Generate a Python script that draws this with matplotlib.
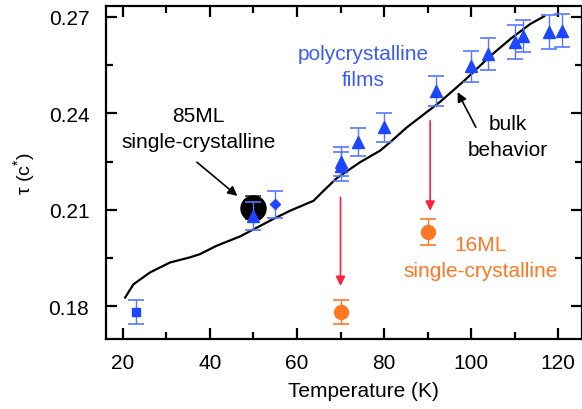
import matplotlib
matplotlib.use("Agg")
import matplotlib.pyplot as plt
from matplotlib.ticker import MultipleLocator

plt.rcParams['font.family'] = ['Liberation Sans', 'DejaVu Sans']
plt.rcParams['mathtext.fontset'] = 'custom'
plt.rcParams['mathtext.rm'] = 'Liberation Sans'
plt.rcParams['mathtext.it'] = 'Liberation Sans:italic'

# bulk behaviour (solid curve)
bulk_T = [20.5, 22.4, 26.2, 30.8, 35.4, 37.7, 41.5, 46.9, 54.5, 58.4, 63.8, 66.1,
          69.1, 74.5, 79.1, 81.4, 85.2, 92.9, 98.3, 104.4, 109.0, 113.6, 116.8]
bulk_tau = [0.1827, 0.1868, 0.1905, 0.1936, 0.1952, 0.1962, 0.1988, 0.2017, 0.2071,
            0.2097, 0.2128, 0.2159, 0.2198, 0.2248, 0.2284, 0.2310, 0.2356, 0.2436,
            0.2500, 0.2578, 0.2631, 0.2678, 0.2702]

# polycrystalline films
tri_T = [50, 70, 70, 74, 80, 92, 100, 104, 110, 112, 118, 121]
tri_tau = [0.2081, 0.2250, 0.2235, 0.2311, 0.2357, 0.2470, 0.2547, 0.2585,
           0.2622, 0.2641, 0.2653, 0.2657]
tri_err = [0.0044, 0.0044, 0.0045, 0.0045, 0.0045, 0.0047, 0.0048, 0.0050,
           0.0052, 0.0049, 0.0052, 0.0052]
sq_T, sq_tau, sq_err = [23], [0.1782], [0.0036]
dia_T, dia_tau, dia_err = [55], [0.2118], [0.0042]

# single-crystalline films
ml85_T, ml85_tau, ml85_err = [50], [0.2107], [0.0037]
ml16_T = [70, 90]
ml16_tau = [0.1782, 0.2030]
ml16_err = [0.0036, 0.0041]

# drops from polycrystalline to 16ML values
drop_T = [70, 90.6]
drop_from = [0.2139, 0.2377]
drop_to = [0.1863, 0.2097]

blue = '#1c46ff'
blue_err = '#5577ff'
orange = '#ff7722'
red = '#ff1f3f'

fig = plt.figure(figsize=(5.82, 4.10), dpi=100)
ax = fig.add_axes([106 / 582, 70 / 410, 476 / 582, 333 / 410])

ax.plot(bulk_T, bulk_tau, color='black', lw=1.6, zorder=3)

ax.errorbar(ml85_T, ml85_tau, yerr=ml85_err, fmt='o', color='black', ms=18,
            ecolor='#333333', elinewidth=1.0, capsize=6, capthick=1.2, zorder=4)

ebkw = dict(ecolor=blue_err, elinewidth=1.0, capsize=6, capthick=1.2, zorder=5)
ax.errorbar(tri_T, tri_tau, yerr=tri_err, fmt='^', color=blue, ms=8.5, **ebkw)
ax.errorbar(sq_T, sq_tau, yerr=sq_err, fmt='s', color=blue, ms=5.5, **ebkw)
ax.errorbar(dia_T, dia_tau, yerr=dia_err, fmt='D', color=blue, ms=5.5, **ebkw)

ax.errorbar(ml16_T, ml16_tau, yerr=ml16_err, fmt='o', color=orange, ms=10,
            ecolor=orange, elinewidth=1.0, capsize=6, capthick=1.2, zorder=5)

for t, y0, y1 in zip(drop_T, drop_from, drop_to):
    ax.annotate('', xy=(t, y1), xytext=(t, y0),
                arrowprops=dict(arrowstyle='-|>', color=red, lw=1.2,
                                mutation_scale=14, shrinkA=0, shrinkB=0), zorder=6)

txtkw = dict(fontsize=15, ha='center', va='center', linespacing=1.45)
ax.text(75.3, 0.2546, 'polycrystalline\nfilms', color='#3a5cf5', **txtkw)
ax.text(102.3, 0.1952, '16ML\nsingle-crystalline', color=orange, **txtkw)
ax.text(37.3, 0.2352, '85ML\nsingle-crystalline', color='black', **txtkw)
ax.text(108.5, 0.2328, 'bulk\nbehavior', color='black', **txtkw)

# pointer arrows for the black labels
arrkw = dict(arrowstyle='-|>', color='black', lw=1.2, mutation_scale=14,
             shrinkA=0, shrinkB=0)
ax.annotate('', xy=(46.3, 0.2143), xytext=(37.0, 0.2248), arrowprops=arrkw)
ax.annotate('', xy=(96.9, 0.2466), xytext=(101.1, 0.2357), arrowprops=arrkw)

ax.set_xlim(16.1, 125.5)
ax.set_ylim(0.1698, 0.2734)
ax.xaxis.set_major_locator(MultipleLocator(20))
ax.xaxis.set_minor_locator(MultipleLocator(10))
ax.yaxis.set_major_locator(MultipleLocator(0.03))
ax.yaxis.set_minor_locator(MultipleLocator(0.015))
ax.tick_params(which='both', direction='in', top=True, right=True,
               labelsize=15, width=1.6)
ax.tick_params(which='major', length=8)
ax.tick_params(which='minor', length=5)
ax.tick_params(axis='x', pad=10)
ax.tick_params(axis='y', pad=12)
for s in ax.spines.values():
    s.set_linewidth(1.6)

ax.set_xlabel('Temperature (K)', fontsize=15)
ax.xaxis.set_label_coords(0.54, -0.125)
ax.set_ylabel('τ (c$^{*}$)', fontsize=14)
ax.yaxis.set_label_coords(-0.145, 0.5)

fig.savefig('out.png', dpi=100)
